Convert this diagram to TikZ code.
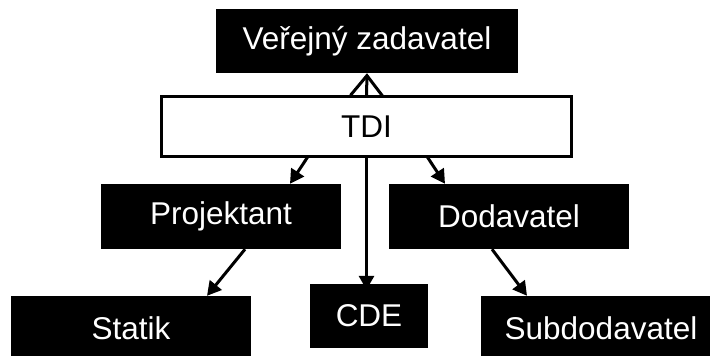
\documentclass[tikz,border=0pt]{standalone}
\usepackage{fontspec}
\setmainfont{Liberation Sans}
\usetikzlibrary{arrows.meta}
\begin{document}
\begin{tikzpicture}[x=1pt,y=-1pt,
  role/.style={fill=black,text=white,inner sep=0pt,minimum height=64pt,
    font=\fontsize{31.5}{36}\selectfont},
  hub/.style={draw=black,fill=white,line width=3pt,inner sep=0pt,
    minimum width=410pt,minimum height=60pt,font=\fontsize{31.5}{36}\selectfont},
  link/.style={line width=3pt,-{Triangle[length=14pt,width=15pt]}},
  report/.style={line width=3pt,-{Straight Barb[length=20pt,width=32pt]}}]
\useasboundingbox (0,0) rectangle (710,356);
% organisation boxes
\node[role,minimum width=302pt] (vz) at (367,41) {Veřejný zadavatel};
\node[role,minimum width=240pt,minimum height=65pt] (proj) at (221,216.5) {Projektant};
\node[role,minimum width=240pt,minimum height=65pt] (dod) at (509,216.5) {Dodavatel};
\node[role,minimum width=240pt] (stat) at (131,328) {Statik};
\node[role,minimum width=118pt] (cde) at (369,316) {CDE};
\node[role,minimum width=240pt] (sub) at (601,328) {Subdodavatel};
% supervisor box
\node[hub] (tdi) at (366.5,126.5) {TDI};
% connectors
\draw[report] ([yshift=-1.5pt]tdi.north) -- (vz.south);
\draw[link] ([xshift=-58.5pt,yshift=1.5pt]tdi.south) -- ([xshift=69pt]proj.north);
\draw[link] ([xshift=60.5pt,yshift=1.5pt]tdi.south) -- ([xshift=-64pt]dod.north);
\draw[link] ([yshift=1.5pt]tdi.south) -- ([yshift=-6pt]tdi.south |- cde.north);
\draw[link] ([xshift=24pt]proj.south) -- ([xshift=76pt]stat.north);
\draw[link] ([xshift=-17pt]dod.south) -- ([xshift=-74pt]sub.north);
\end{tikzpicture}
\end{document}
